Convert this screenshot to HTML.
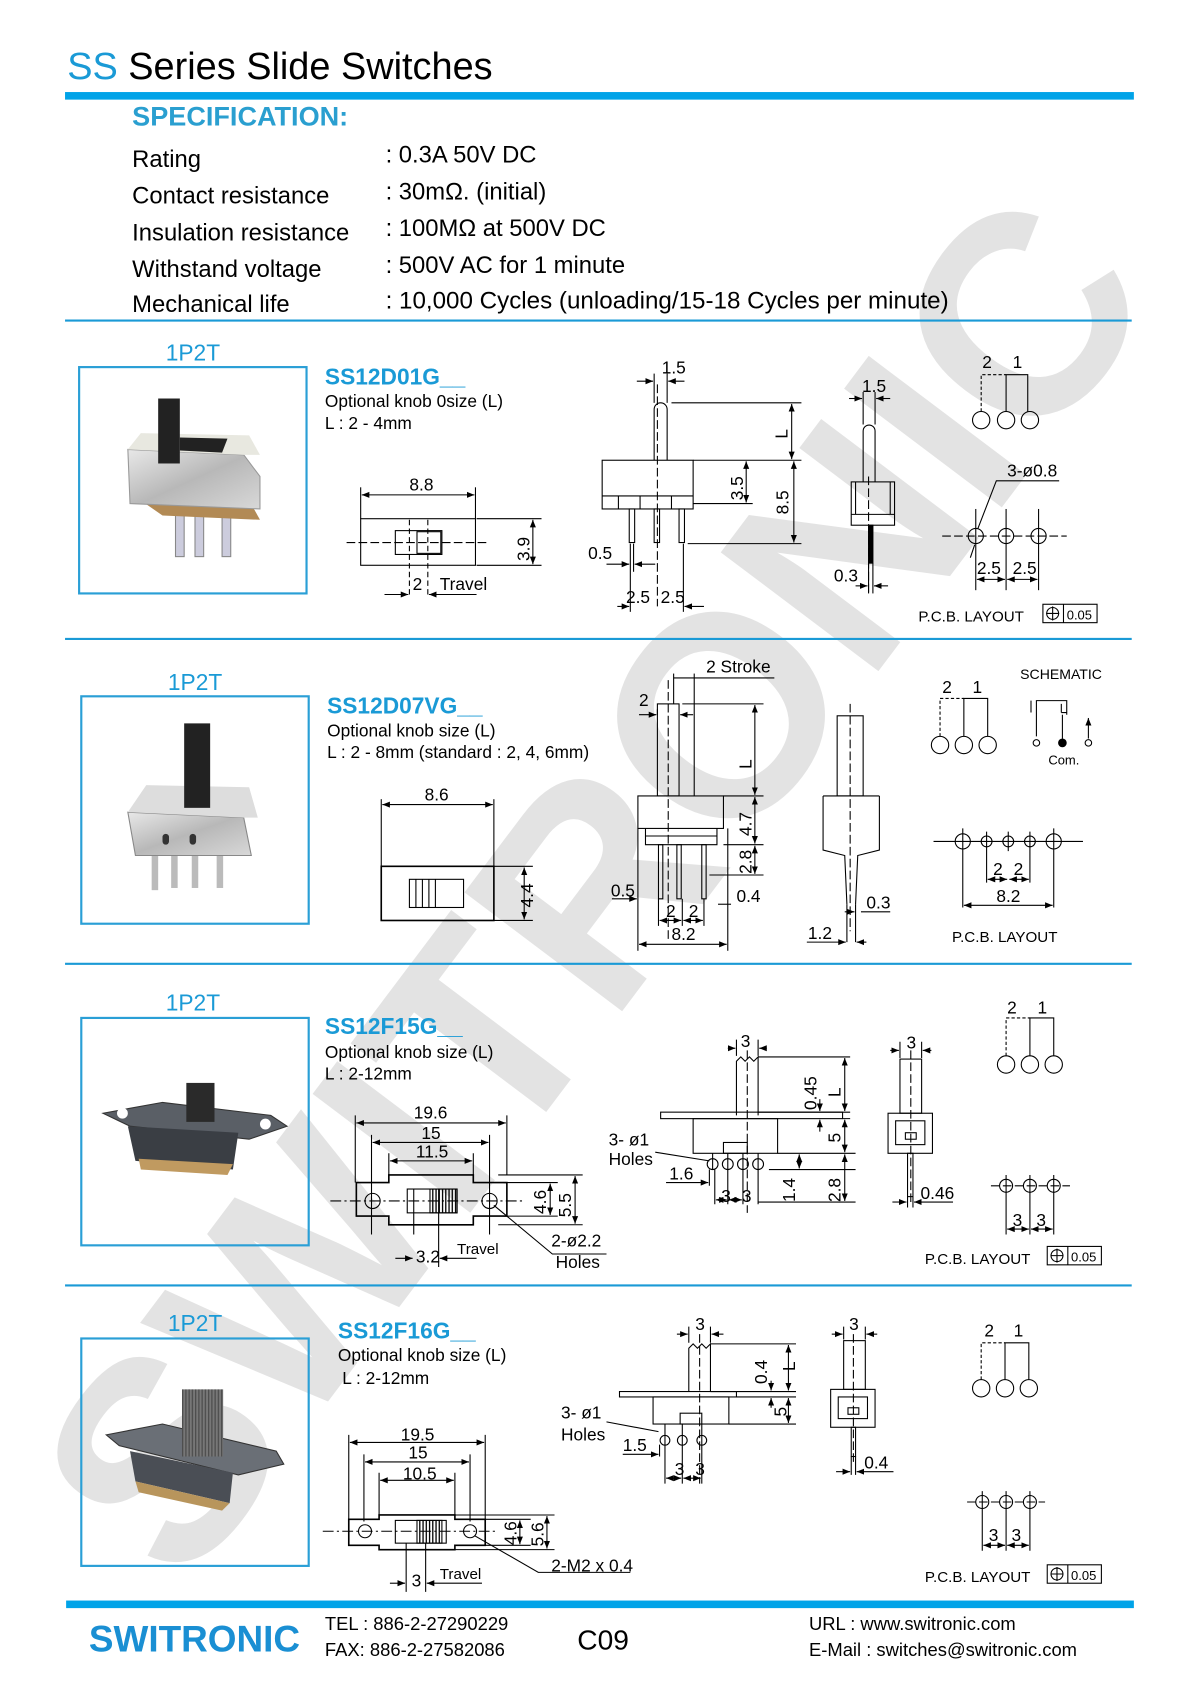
<!DOCTYPE html>
<html><head><meta charset="utf-8"><style>
html,body{margin:0;padding:0;background:#fff}
svg{display:block}
text{font-family:"Liberation Sans",Arial,sans-serif}
</style></head><body>
<svg width="1200" height="1698" viewBox="0 0 1108 1568" xmlns="http://www.w3.org/2000/svg">
<defs>
<marker id="a" viewBox="0 0 10 10" refX="10" refY="5" markerWidth="7" markerHeight="7" orient="auto-start-reverse"><path d="M0,1 L10,5 L0,9 z" fill="#000"/></marker>
<linearGradient id="met" x1="0" y1="0" x2="1" y2="1"><stop offset="0" stop-color="#e8e8e8"/><stop offset=".5" stop-color="#b8b8b8"/><stop offset="1" stop-color="#d8d8d8"/></linearGradient>
<pattern id="str" width="3" height="4" patternUnits="userSpaceOnUse"><rect width="1.2" height="4" fill="#000"/></pattern>
</defs>

<!-- watermark -->
<text transform="translate(545,815) rotate(-53)" y="95" text-anchor="middle" font-size="265" font-weight="bold" fill="#e3e3e3" textLength="1500" lengthAdjust="spacingAndGlyphs">SWITRONIC</text>

<!-- header -->
<text x="62" y="73" font-size="35"><tspan fill="#1a9ad6">SS</tspan> Series Slide Switches</text>
<rect x="60" y="85" width="987" height="7" fill="#00a3e8"/>
<text x="122" y="116" font-size="25" font-weight="bold" fill="#2a9fd0">SPECIFICATION:</text>
<g font-size="22">
<text x="122" y="154">Rating</text><text x="356" y="150">: 0.3A  50V DC</text>
<text x="122" y="188">Contact resistance</text><text x="356" y="184">: 30mΩ. (initial)</text>
<text x="122" y="222">Insulation resistance</text><text x="356" y="218">: 100MΩ at 500V DC</text>
<text x="122" y="256">Withstand voltage</text><text x="356" y="252">: 500V AC  for 1 minute</text>
<text x="122" y="288">Mechanical life</text><text x="356" y="285" textLength="520" lengthAdjust="spacingAndGlyphs">: 10,000 Cycles (unloading/15-18 Cycles per minute)</text>
</g>
<g stroke="#1a9ad6" stroke-width="2">
<line x1="60" y1="296" x2="1045" y2="296"/>
<line x1="60" y1="590" x2="1045" y2="590"/>
<line x1="60" y1="890" x2="1045" y2="890"/>
<line x1="60" y1="1187" x2="1045" y2="1187"/>
</g>

<!-- photo boxes -->
<g fill="none" stroke="#2a9fd6" stroke-width="2">
<rect x="73" y="339" width="210" height="209"/>
<rect x="75" y="643" width="210" height="210"/>
<rect x="75" y="940" width="210" height="210"/>
<rect x="75" y="1236" width="210" height="210"/>
</g>
<g font-size="21" fill="#1a9ad6">
<text x="153" y="333">1P2T</text><text x="155" y="637">1P2T</text>
<text x="153" y="933">1P2T</text><text x="155" y="1229">1P2T</text>
</g>

<!-- photo 1 -->
<g>
<rect x="162" y="476" width="8" height="38" fill="#ccd" stroke="#888"/>
<rect x="180" y="476" width="8" height="38" fill="#ccd" stroke="#888"/>
<rect x="205" y="476" width="8" height="38" fill="#ccd" stroke="#888"/>
<path d="M124 458 L230 462 L240 480 L150 476 Z" fill="#b28a55"/>
<path d="M118 415 L225 420 L240 440 L240 470 L120 465 Z" fill="url(#met)" stroke="#999"/>
<path d="M118 415 L130 400 L230 402 L240 420 L225 420 Z" fill="#e8e8e0"/>
<path d="M166 404 L210 405 L205 418 L166 416 Z" fill="#222"/>
<rect x="146" y="368" width="20" height="60" fill="#222"/>
</g>
<!-- photo 2 -->
<g>
<rect x="140" y="790" width="6" height="32" fill="#bbb"/><rect x="158" y="790" width="6" height="30" fill="#bbb"/><rect x="177" y="790" width="6" height="30" fill="#bbb"/><rect x="200" y="790" width="6" height="30" fill="#bbb"/>
<path d="M118 750 L225 755 L232 790 L125 790 Z" fill="url(#met)" stroke="#888"/>
<path d="M118 750 L135 725 L230 727 L238 755 L225 755 Z" fill="#ddd"/>
<rect x="150" y="770" width="6" height="10" rx="3" fill="#333"/><rect x="175" y="770" width="6" height="10" rx="3" fill="#333"/>
<rect x="170" y="668" width="24" height="78" fill="#222"/>
</g>
<!-- photo 3 -->
<g>
<path d="M95 1028 L150 1018 L250 1030 L265 1040 L230 1052 L120 1040 Z" fill="#5a5f66" stroke="#333"/>
<circle cx="113" cy="1028" r="5" fill="#fff"/><circle cx="245" cy="1038" r="5" fill="#fff"/>
<path d="M118 1040 L220 1046 L215 1080 L125 1072 Z" fill="#3a3e44"/>
<path d="M128 1070 L215 1075 L210 1085 L130 1080 Z" fill="#c09a60"/>
<rect x="172" y="1000" width="26" height="36" fill="#2a2a2a"/>
</g>
<!-- photo 4 -->
<g>
<path d="M98 1325 L150 1315 L255 1340 L262 1352 L220 1362 L110 1335 Z" fill="#6a6f76" stroke="#333"/>
<path d="M120 1340 L215 1360 L212 1388 L125 1368 Z" fill="#4a4e55"/>
<path d="M125 1368 L212 1388 L205 1395 L128 1378 Z" fill="#b8955c"/>
<rect x="168" y="1283" width="38" height="62" fill="#777"/>
<rect x="168" y="1283" width="38" height="62" fill="url(#str)" opacity=".35"/>
</g>

<!-- titles -->
<g font-size="21" font-weight="bold" fill="#1a9ad6">
<text x="300" y="355">SS12D01G__</text><text x="302" y="659">SS12D07VG__</text>
<text x="300" y="955">SS12F15G__</text><text x="312" y="1236">SS12F16G__</text>
</g>
<g font-size="16">
<text x="300" y="376">Optional knob 0size (L)</text><text x="300" y="396">L  : 2 - 4mm</text>
<text x="302" y="680">Optional knob size (L)</text><text x="302" y="700">L : 2 - 8mm (standard : 2, 4, 6mm)</text>
<text x="300" y="977">Optional knob size (L)</text><text x="300" y="997">L  : 2-12mm</text>
<text x="312" y="1257">Optional knob size (L)</text><text x="316" y="1278">L   : 2-12mm</text>
</g>

<g fill="none" stroke="#000" stroke-width="1">
<!-- ===== section 1 ===== -->
<rect x="333" y="479" width="106" height="43"/>
<rect x="365" y="490" width="43" height="22"/><rect x="385" y="491" width="22" height="20"/>
<line x1="320" y1="501" x2="450" y2="501" stroke-dasharray="8 3"/>
<line x1="378" y1="480" x2="378" y2="550" stroke-dasharray="5 3"/><line x1="395" y1="480" x2="395" y2="550" stroke-dasharray="5 3"/>
<line x1="333" y1="450" x2="333" y2="479"/><line x1="439" y1="450" x2="439" y2="479"/>
<line x1="334" y1="457" x2="438" y2="457" marker-start="url(#a)" marker-end="url(#a)"/>
<line x1="440" y1="479" x2="500" y2="479"/><line x1="440" y1="522" x2="500" y2="522"/>
<line x1="492" y1="480" x2="492" y2="521" marker-start="url(#a)" marker-end="url(#a)"/>
<line x1="355" y1="549" x2="377" y2="549" marker-end="url(#a)"/><line x1="440" y1="549" x2="396" y2="549" marker-end="url(#a)"/>

<path d="M604 425 V378 A6 6 0 0 1 616 378 V425"/>
<rect x="556" y="425" width="84" height="45"/>
<path d="M556 458 H640 M571 458 V470 M591 458 V470 M620 458 V470"/>
<rect x="581" y="470" width="5" height="31"/><rect x="604" y="470" width="5" height="31"/><rect x="627" y="470" width="5" height="31"/>
<line x1="607" y1="355" x2="607" y2="560" stroke-dasharray="8 3"/>
<line x1="604" y1="345" x2="604" y2="372"/><line x1="616" y1="345" x2="616" y2="372"/>
<line x1="588" y1="352" x2="603" y2="352" marker-end="url(#a)"/><line x1="632" y1="352" x2="617" y2="352" marker-end="url(#a)"/>
<line x1="620" y1="372" x2="740" y2="372"/><line x1="640" y1="425" x2="740" y2="425"/><line x1="640" y1="465" x2="695" y2="465"/><line x1="635" y1="502" x2="740" y2="502"/>
<line x1="731" y1="373" x2="731" y2="424" marker-start="url(#a)" marker-end="url(#a)"/>
<line x1="689" y1="426" x2="689" y2="464" marker-start="url(#a)" marker-end="url(#a)"/>
<line x1="733" y1="426" x2="733" y2="501" marker-start="url(#a)" marker-end="url(#a)"/>
<line x1="582" y1="502" x2="582" y2="565"/><line x1="585" y1="502" x2="585" y2="528"/><line x1="631" y1="502" x2="631" y2="565"/>
<line x1="560" y1="521" x2="581" y2="521" marker-end="url(#a)"/><line x1="605" y1="521" x2="586" y2="521" marker-end="url(#a)"/>
<line x1="570" y1="560" x2="581" y2="560" marker-end="url(#a)"/><line x1="650" y1="560" x2="632" y2="560" marker-end="url(#a)"/>

<path d="M797 445 V398 A5.5 5.5 0 0 1 808 398 V445"/>
<rect x="786" y="445" width="40" height="40"/><path d="M786 475 H826 M790 445 V475 M822 445 V475"/>
<rect x="802" y="485" width="4" height="35" fill="#000"/>
<line x1="802" y1="440" x2="802" y2="548" stroke-dasharray="8 3"/>
<line x1="797" y1="362" x2="797" y2="392"/><line x1="808" y1="362" x2="808" y2="392"/>
<line x1="784" y1="368" x2="796" y2="368" marker-end="url(#a)"/><line x1="822" y1="368" x2="809" y2="368" marker-end="url(#a)"/>
<line x1="802" y1="520" x2="802" y2="548"/><line x1="806" y1="520" x2="806" y2="548"/>
<line x1="790" y1="541" x2="801" y2="541" marker-end="url(#a)"/><line x1="820" y1="541" x2="807" y2="541" marker-end="url(#a)"/>

<circle cx="906" cy="388" r="8"/><circle cx="929" cy="388" r="8"/><circle cx="951" cy="388" r="8"/>
<path d="M906 380 V346 H929" stroke-dasharray="3 2"/><path d="M929 380 V346 H949 V380"/>
<circle cx="901" cy="495" r="7"/><circle cx="929" cy="495" r="7"/><circle cx="959" cy="495" r="7"/>
<line x1="870" y1="495" x2="985" y2="495" stroke-dasharray="8 3"/>
<line x1="901" y1="470" x2="901" y2="545"/><line x1="929" y1="470" x2="929" y2="545"/><line x1="959" y1="470" x2="959" y2="545"/>
<path d="M978 444 H920 L903 488"/><line x1="896" y1="515" x2="900" y2="503"/>
<line x1="902" y1="535" x2="928" y2="535" marker-start="url(#a)" marker-end="url(#a)"/><line x1="930" y1="535" x2="958" y2="535" marker-start="url(#a)" marker-end="url(#a)"/>
<rect x="963" y="558" width="50" height="17"/><line x1="982" y1="558" x2="982" y2="575"/><circle cx="972" cy="566.5" r="5.5"/><path d="M966 566.5 H978 M972 560 V573"/>

<!-- ===== section 2 ===== -->
<rect x="352" y="800" width="104" height="50" stroke-width="1.5"/>
<rect x="378" y="812" width="50" height="26"/><path d="M384 812 V838 M390 812 V838 M396 812 V838 M402 812 V838"/>
<line x1="352" y1="738" x2="352" y2="800"/><line x1="456" y1="738" x2="456" y2="800"/>
<line x1="353" y1="743" x2="455" y2="743" marker-start="url(#a)" marker-end="url(#a)"/>
<line x1="456" y1="800" x2="492" y2="800"/><line x1="456" y1="850" x2="492" y2="850"/>
<line x1="484" y1="801" x2="484" y2="849" marker-start="url(#a)" marker-end="url(#a)"/>

<rect x="607" y="650" width="20" height="85"/>
<line x1="617" y1="628" x2="617" y2="870" stroke-dasharray="8 3"/>
<rect x="589" y="735" width="79" height="30"/><path d="M596 765 V780 H662 V765 M596 772 H662"/>
<rect x="608" y="780" width="4" height="50"/><rect x="625" y="780" width="4" height="50"/><rect x="648" y="780" width="4" height="50"/>
<line x1="622" y1="622" x2="622" y2="650"/><line x1="641" y1="622" x2="641" y2="735"/>
<line x1="622" y1="626" x2="715" y2="626"/>
<line x1="607" y1="655" x2="607" y2="660"/><line x1="590" y1="660" x2="606" y2="660" marker-end="url(#a)"/><line x1="640" y1="660" x2="628" y2="660" marker-end="url(#a)"/>
<line x1="630" y1="650" x2="705" y2="650"/><line x1="668" y1="735" x2="705" y2="735"/><line x1="668" y1="780" x2="705" y2="780"/><line x1="655" y1="808" x2="705" y2="808"/>
<line x1="697" y1="651" x2="697" y2="734" marker-start="url(#a)" marker-end="url(#a)"/>
<line x1="697" y1="736" x2="697" y2="779" marker-start="url(#a)" marker-end="url(#a)"/>
<line x1="697" y1="781" x2="697" y2="807" marker-start="url(#a)" marker-end="url(#a)"/>
<line x1="589" y1="765" x2="589" y2="878"/><line x1="672" y1="765" x2="672" y2="878"/>
<line x1="608" y1="830" x2="608" y2="855"/><line x1="630" y1="830" x2="630" y2="855"/><line x1="650" y1="830" x2="650" y2="855"/>
<line x1="565" y1="830" x2="588" y2="830" marker-end="url(#a)"/>
<line x1="609" y1="850" x2="629" y2="850" marker-start="url(#a)" marker-end="url(#a)"/><line x1="631" y1="850" x2="649" y2="850" marker-start="url(#a)" marker-end="url(#a)"/>
<line x1="590" y1="872" x2="671" y2="872" marker-start="url(#a)" marker-end="url(#a)"/>
<line x1="663" y1="835" x2="675" y2="835"/>

<rect x="773" y="661" width="24" height="74"/>
<path d="M760 735 V785 L780 790 L782 835 M812 735 V785 L792 790 L790 835 M760 735 H812"/>
<line x1="785" y1="650" x2="785" y2="860" stroke-dasharray="8 3"/>
<line x1="782" y1="835" x2="782" y2="870"/><line x1="790" y1="835" x2="790" y2="870"/>
<line x1="795" y1="842" x2="822" y2="842"/><line x1="780" y1="842" x2="789" y2="842" marker-end="url(#a)"/>
<line x1="745" y1="870" x2="781" y2="870" marker-end="url(#a)"/><line x1="800" y1="870" x2="791" y2="870" marker-end="url(#a)"/>

<circle cx="868" cy="688" r="8"/><circle cx="890" cy="688" r="8"/><circle cx="912" cy="688" r="8"/>
<path d="M868 680 V645 H890" stroke-dasharray="3 2"/><path d="M890 680 V645 H912 V680"/>
<path d="M957 680 V647 H985 V660 M952 658 V647 M980 650 V658 M980 658 H985"/>
<circle cx="957" cy="686" r="3"/><circle cx="981" cy="686" r="3.5" fill="#000"/><circle cx="1005" cy="686" r="3"/>
<line x1="981" y1="660" x2="981" y2="682"/><line x1="1005" y1="663" x2="1005" y2="682" marker-start="url(#a)"/>
<line x1="862" y1="777" x2="1000" y2="777"/>
<circle cx="889" cy="777" r="7"/><circle cx="911" cy="777" r="5"/><circle cx="931" cy="777" r="5"/><circle cx="951" cy="777" r="5"/><circle cx="973" cy="777" r="7"/>
<path d="M889 765 V838 M911 768 V815 M931 768 V786 M951 768 V815 M973 765 V838 M911 768 V786 M951 768 V786"/>
<line x1="912" y1="812" x2="930" y2="812" marker-start="url(#a)" marker-end="url(#a)"/><line x1="932" y1="812" x2="950" y2="812" marker-start="url(#a)" marker-end="url(#a)"/>
<line x1="890" y1="836" x2="972" y2="836" marker-start="url(#a)" marker-end="url(#a)"/>

<!-- ===== section 3 ===== -->
<path d="M329 1092 H359 V1085 H437 V1092 H468 V1123 H437 V1131 H359 V1123 H329 Z" stroke-width="1.5"/>
<circle cx="344" cy="1109" r="7"/><circle cx="452" cy="1109" r="7"/>
<rect x="376" y="1098" width="46" height="22"/><rect x="397" y="1098" width="25" height="22" fill="url(#str)"/>
<line x1="305" y1="1109" x2="482" y2="1109" stroke-dasharray="10 3 2 3"/>
<path d="M328 1030 V1092 M468 1030 V1085 M343 1048 V1140 M452 1048 V1140 M359 1065 V1085 M437 1065 V1085 M382 1098 V1140 M405 1098 V1170"/>
<line x1="329" y1="1037" x2="467" y2="1037" marker-start="url(#a)" marker-end="url(#a)"/>
<line x1="344" y1="1055" x2="451" y2="1055" marker-start="url(#a)" marker-end="url(#a)"/>
<line x1="360" y1="1072" x2="436" y2="1072" marker-start="url(#a)" marker-end="url(#a)"/>
<line x1="460" y1="1085" x2="538" y2="1085"/><line x1="460" y1="1131" x2="538" y2="1131"/><line x1="465" y1="1092" x2="515" y2="1092"/><line x1="465" y1="1123" x2="515" y2="1123"/>
<line x1="508" y1="1093" x2="508" y2="1122" marker-start="url(#a)" marker-end="url(#a)"/>
<line x1="531" y1="1086" x2="531" y2="1130" marker-start="url(#a)" marker-end="url(#a)"/>
<line x1="365" y1="1162" x2="381" y2="1162" marker-end="url(#a)"/><line x1="440" y1="1162" x2="406" y2="1162" marker-end="url(#a)"/>
<path d="M456 1113 L510 1158 H560"/>

<path d="M680 1030 V980 L684 976 L688 980 L692 976 L696 980 L700 976 V1030"/>
<rect x="610" y="1027" width="168" height="6"/>
<rect x="640" y="1033" width="78" height="32"/><rect x="668" y="1055" width="22" height="10"/>
<circle cx="658" cy="1075" r="5"/><circle cx="672" cy="1075" r="5"/><circle cx="686" cy="1075" r="5"/><circle cx="700" cy="1075" r="5"/>
<path d="M672 1065 V1080 M686 1065 V1080 M700 1065 V1080 M658 1065 V1080"/>
<line x1="690" y1="970" x2="690" y2="1120" stroke-dasharray="8 3"/>
<path d="M680 960 V975 M700 960 V975"/>
<line x1="672" y1="968" x2="679" y2="968" marker-end="url(#a)"/><line x1="708" y1="968" x2="701" y2="968" marker-end="url(#a)"/>
<path d="M700 976 H785 M700 1027 H785 M778 1033 H785 M718 1065 H790 M710 1080 H790 M700 1110 H790"/>
<line x1="757" y1="1015" x2="757" y2="1026" marker-end="url(#a)"/><line x1="757" y1="1045" x2="757" y2="1034" marker-end="url(#a)"/>
<line x1="780" y1="977" x2="780" y2="1026" marker-start="url(#a)" marker-end="url(#a)"/>
<line x1="780" y1="1034" x2="780" y2="1064" marker-start="url(#a)" marker-end="url(#a)"/>
<line x1="780" y1="1066" x2="780" y2="1109" marker-start="url(#a)" marker-end="url(#a)"/>
<line x1="738" y1="1066" x2="738" y2="1079" marker-start="url(#a)" marker-end="url(#a)"/>
<path d="M605 1064 L655 1072 M655 1080 V1095 M660 1080 V1112 M672 1080 V1112 M686 1080 V1112 M700 1080 V1112"/>
<line x1="615" y1="1092" x2="654" y2="1092" marker-end="url(#a)"/>
<line x1="661" y1="1108" x2="671" y2="1108" marker-start="url(#a)" marker-end="url(#a)"/><line x1="673" y1="1108" x2="685" y2="1108" marker-start="url(#a)" marker-end="url(#a)"/>

<rect x="831" y="978" width="20" height="50"/>
<rect x="820" y="1028" width="41" height="37"/><rect x="827" y="1035" width="27" height="22"/><rect x="836" y="1046" width="10" height="6"/>
<rect x="838" y="1065" width="5" height="40"/>
<line x1="841" y1="970" x2="841" y2="1112" stroke-dasharray="8 3"/>
<path d="M831 962 V977 M851 962 V977 M838 1105 V1115 M843 1105 V1115"/>
<line x1="822" y1="970" x2="830" y2="970" marker-end="url(#a)"/><line x1="860" y1="970" x2="852" y2="970" marker-end="url(#a)"/>
<line x1="824" y1="1110" x2="837" y2="1110" marker-end="url(#a)"/><line x1="880" y1="1110" x2="844" y2="1110" marker-end="url(#a)"/>

<circle cx="929" cy="983" r="8"/><circle cx="951" cy="983" r="8"/><circle cx="973" cy="983" r="8"/>
<path d="M929 975 V940 H951" stroke-dasharray="3 2"/><path d="M951 975 V940 H973 V975"/>
<line x1="915" y1="1095" x2="988" y2="1095" stroke-dasharray="8 3"/>
<circle cx="929" cy="1095" r="6"/><circle cx="951" cy="1095" r="6"/><circle cx="973" cy="1095" r="6"/>
<path d="M929 1085 V1140 M951 1085 V1140 M973 1085 V1140"/>
<line x1="930" y1="1135" x2="950" y2="1135" marker-start="url(#a)" marker-end="url(#a)"/><line x1="952" y1="1135" x2="972" y2="1135" marker-start="url(#a)" marker-end="url(#a)"/>
<rect x="967" y="1151" width="50" height="17"/><line x1="986" y1="1151" x2="986" y2="1168"/><circle cx="976" cy="1159.5" r="5.5"/><path d="M970 1159.5 H982 M976 1153 V1166"/>

<!-- ===== section 4 ===== -->
<path d="M322 1403 H350 V1399 H420 V1403 H448 V1427 H420 V1431 H350 V1427 H322 Z" stroke-width="1.5"/>
<circle cx="337" cy="1414" r="6"/><circle cx="434" cy="1414" r="6"/>
<rect x="365" y="1404" width="47" height="21"/><rect x="385" y="1404" width="23" height="21" fill="url(#str)"/>
<line x1="298" y1="1414" x2="460" y2="1414" stroke-dasharray="10 3 2 3"/>
<path d="M322 1325 V1403 M448 1325 V1403 M336 1343 V1405 M434 1343 V1405 M350 1360 V1399 M420 1360 V1399"/>
<line x1="323" y1="1332" x2="447" y2="1332" marker-start="url(#a)" marker-end="url(#a)"/>
<line x1="337" y1="1350" x2="433" y2="1350" marker-start="url(#a)" marker-end="url(#a)"/>
<line x1="351" y1="1367" x2="419" y2="1367" marker-start="url(#a)" marker-end="url(#a)"/>
<line x1="420" y1="1399" x2="512" y2="1399"/><line x1="420" y1="1431" x2="512" y2="1431"/><line x1="448" y1="1403" x2="490" y2="1403"/><line x1="448" y1="1427" x2="490" y2="1427"/>
<line x1="480" y1="1404" x2="480" y2="1426" marker-start="url(#a)" marker-end="url(#a)"/>
<line x1="505" y1="1400" x2="505" y2="1430" marker-start="url(#a)" marker-end="url(#a)"/>
<path d="M375 1425 V1470 M393 1425 V1470"/>
<line x1="360" y1="1462" x2="374" y2="1462" marker-end="url(#a)"/><line x1="445" y1="1462" x2="394" y2="1462" marker-end="url(#a)"/>
<path d="M438 1418 L497 1452 H582"/>

<path d="M636 1285 V1245 L640 1241 L644 1245 L648 1241 L652 1245 L656 1241 V1285"/>
<rect x="572" y="1285" width="108" height="5"/>
<rect x="603" y="1290" width="70" height="25"/><rect x="628" y="1305" width="20" height="10"/>
<circle cx="614" cy="1330" r="4.5"/><circle cx="630" cy="1330" r="4.5"/><circle cx="648" cy="1330" r="4.5"/>
<path d="M614 1315 V1334 M630 1315 V1334 M648 1315 V1334"/>
<line x1="646" y1="1232" x2="646" y2="1370" stroke-dasharray="8 3"/>
<path d="M636 1225 V1240 M656 1225 V1240"/>
<line x1="625" y1="1232" x2="635" y2="1232" marker-end="url(#a)"/><line x1="668" y1="1232" x2="657" y2="1232" marker-end="url(#a)"/>
<path d="M656 1241 H735 M656 1285 H735 M680 1290 H735 M673 1315 H735"/>
<line x1="712" y1="1275" x2="712" y2="1284" marker-end="url(#a)"/><line x1="712" y1="1300" x2="712" y2="1291" marker-end="url(#a)"/>
<line x1="728" y1="1242" x2="728" y2="1284" marker-start="url(#a)" marker-end="url(#a)"/>
<line x1="728" y1="1291" x2="728" y2="1314" marker-start="url(#a)" marker-end="url(#a)"/>
<path d="M560 1313 L608 1322 M609 1334 V1345 M614 1334 V1370 M630 1334 V1370 M648 1334 V1370"/>
<line x1="575" y1="1343" x2="608" y2="1343" marker-end="url(#a)"/>
<line x1="615" y1="1365" x2="629" y2="1365" marker-start="url(#a)" marker-end="url(#a)"/><line x1="631" y1="1365" x2="647" y2="1365" marker-start="url(#a)" marker-end="url(#a)"/>

<rect x="779" y="1238" width="20" height="45"/>
<rect x="767" y="1283" width="41" height="35"/><rect x="774" y="1290" width="27" height="20"/><rect x="783" y="1300" width="10" height="6"/>
<rect x="786" y="1318" width="4" height="27"/>
<line x1="788" y1="1232" x2="788" y2="1352" stroke-dasharray="8 3"/>
<path d="M779 1225 V1237 M799 1225 V1237 M786 1345 V1362 M790 1345 V1362"/>
<line x1="768" y1="1232" x2="778" y2="1232" marker-end="url(#a)"/><line x1="810" y1="1232" x2="800" y2="1232" marker-end="url(#a)"/>
<line x1="772" y1="1359" x2="785" y2="1359" marker-end="url(#a)"/><line x1="825" y1="1359" x2="791" y2="1359" marker-end="url(#a)"/>

<circle cx="906" cy="1282" r="8"/><circle cx="928" cy="1282" r="8"/><circle cx="950" cy="1282" r="8"/>
<path d="M906 1274 V1240 H928" stroke-dasharray="3 2"/><path d="M928 1274 V1240 H950 V1274"/>
<line x1="893" y1="1387" x2="965" y2="1387" stroke-dasharray="8 3"/>
<circle cx="907" cy="1387" r="6"/><circle cx="929" cy="1387" r="6"/><circle cx="951" cy="1387" r="6"/>
<path d="M907 1377 V1432 M929 1377 V1432 M951 1377 V1432"/>
<line x1="908" y1="1427" x2="928" y2="1427" marker-start="url(#a)" marker-end="url(#a)"/><line x1="930" y1="1427" x2="950" y2="1427" marker-start="url(#a)" marker-end="url(#a)"/>
<rect x="967" y="1445" width="50" height="17"/><line x1="986" y1="1445" x2="986" y2="1462"/><circle cx="976" cy="1453.5" r="5.5"/><path d="M970 1453.5 H982 M976 1447 V1460"/>
</g>

<!-- labels -->
<g font-size="16">
<text x="378" y="453">8.8</text><text x="381" y="545">2</text><text x="406" y="545">Travel</text>
<text x="489" y="518" transform="rotate(-90 489 518)">3.9</text>
<text x="611" y="345">1.5</text><text x="727" y="405" transform="rotate(-90 727 405)">L</text>
<text x="686" y="462" transform="rotate(-90 686 462)">3.5</text><text x="728" y="475" transform="rotate(-90 728 475)">8.5</text>
<text x="543" y="516">0.5</text><text x="578" y="557">2.5</text><text x="610" y="557">2.5</text>
<text x="796" y="362">1.5</text><text x="770" y="537">0.3</text>
<text x="907" y="340">2</text><text x="935" y="340">1</text>
<text x="930" y="440">3-ø0.8</text><text x="902" y="530">2.5</text><text x="935" y="530">2.5</text>
<text x="848" y="574" font-size="14">P.C.B. LAYOUT</text><text x="985" y="572" font-size="12">0.05</text>

<text x="392" y="739">8.6</text><text x="492" y="838" transform="rotate(-90 492 838)">4.4</text>
<text x="652" y="621">2 Stroke</text><text x="590" y="652">2</text>
<text x="694" y="710" transform="rotate(-90 694 710)">L</text><text x="694" y="772" transform="rotate(-90 694 772)">4.7</text><text x="694" y="807" transform="rotate(-90 694 807)">2.8</text>
<text x="564" y="828">0.5</text><text x="615" y="847">2</text><text x="636" y="847">2</text><text x="620" y="868">8.2</text><text x="680" y="833">0.4</text>
<text x="800" y="839">0.3</text><text x="746" y="867">1.2</text>
<text x="870" y="640">2</text><text x="898" y="640">1</text>
<text x="942" y="627" font-size="13">SCHEMATIC</text><text x="968" y="706" font-size="12">Com.</text>
<text x="917" y="808">2</text><text x="936" y="808">2</text><text x="920" y="833">8.2</text>
<text x="879" y="870" font-size="14">P.C.B. LAYOUT</text>

<text x="382" y="1033">19.6</text><text x="389" y="1052">15</text><text x="384" y="1069">11.5</text>
<text x="504" y="1121" transform="rotate(-90 504 1121)">4.6</text><text x="527" y="1124" transform="rotate(-90 527 1124)">5.5</text>
<text x="384" y="1166">3.2</text><text x="422" y="1158" font-size="14">Travel</text><text x="509" y="1151">2-ø2.2</text><text x="513" y="1171">Holes</text>
<text x="684" y="967">3</text><text x="754" y="1025" transform="rotate(-90 754 1025)">0.45</text><text x="776" y="1013" transform="rotate(-90 776 1013)">L</text><text x="776" y="1055" transform="rotate(-90 776 1055)">5</text>
<text x="562" y="1058">3- ø1</text><text x="562" y="1076">Holes</text><text x="618" y="1089">1.6</text>
<text x="666" y="1110">3</text><text x="685" y="1110">3</text><text x="734" y="1110" transform="rotate(-90 734 1110)">1.4</text><text x="776" y="1110" transform="rotate(-90 776 1110)">2.8</text>
<text x="837" y="968">3</text><text x="850" y="1107">0.46</text>
<text x="930" y="936">2</text><text x="958" y="936">1</text>
<text x="935" y="1132">3</text><text x="957" y="1132">3</text>
<text x="854" y="1167" font-size="14">P.C.B. LAYOUT</text><text x="989" y="1165" font-size="12">0.05</text>

<text x="370" y="1330">19.5</text><text x="377" y="1347">15</text><text x="372" y="1366">10.5</text>
<text x="477" y="1427" transform="rotate(-90 477 1427)">4.6</text><text x="502" y="1428" transform="rotate(-90 502 1428)">5.6</text>
<text x="380" y="1465">3</text><text x="406" y="1458" font-size="14">Travel</text><text x="509" y="1451">2-M2 x 0.4</text>
<text x="642" y="1228">3</text><text x="708" y="1278" transform="rotate(-90 708 1278)">0.4</text><text x="734" y="1266" transform="rotate(-90 734 1266)">L</text><text x="726" y="1308" transform="rotate(-90 726 1308)">5</text>
<text x="518" y="1310">3- ø1</text><text x="518" y="1330">Holes</text><text x="575" y="1340">1.5</text>
<text x="623" y="1362">3</text><text x="642" y="1362">3</text>
<text x="784" y="1228">3</text><text x="798" y="1356">0.4</text>
<text x="909" y="1234">2</text><text x="936" y="1234">1</text>
<text x="913" y="1423">3</text><text x="934" y="1423">3</text>
<text x="854" y="1461" font-size="14">P.C.B. LAYOUT</text><text x="989" y="1459" font-size="12">0.05</text>
</g>

<!-- footer -->
<rect x="61" y="1478" width="986" height="7" fill="#00a3e8"/>
<text x="82" y="1525" font-size="34" font-weight="bold" fill="#1a8fd3" textLength="195" lengthAdjust="spacingAndGlyphs">SWITRONIC</text>
<g font-size="17">
<text x="300" y="1505">TEL : 886-2-27290229</text><text x="300" y="1529">FAX: 886-2-27582086</text>
<text x="747" y="1505">URL    : www.switronic.com</text><text x="747" y="1529">E-Mail : switches@switronic.com</text>
</g>
<text x="533" y="1523" font-size="26" font-family="Liberation Serif, serif">C09</text>
</svg>
</body></html>
